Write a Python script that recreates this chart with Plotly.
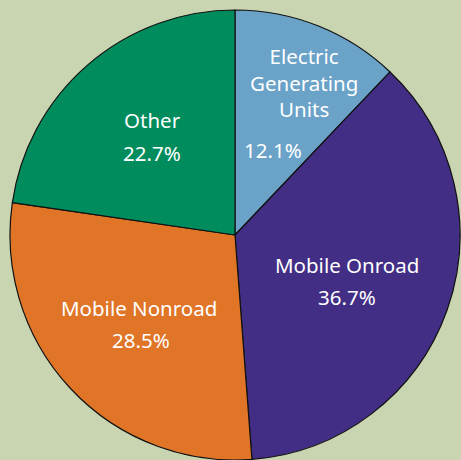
import plotly.graph_objects as go

# Emission share by source sector (percent)
sectors = ["Electric Generating Units", "Mobile Onroad", "Mobile Nonroad", "Other"]
shares = [12.1, 36.7, 28.5, 22.7]
slice_colors = ["#6aa2c8", "#422e85", "#e07528", "#008c5c"]

# label blocks drawn as text: (sector text, name x, name y, pct x, pct y) in pixels
W, H = 461, 460
label_layout = [
    ("Electric<br>Generating<br>Units", 304, 83, 273, 150),
    ("Mobile Onroad", 347, 265, 347, 297),
    ("Mobile Nonroad", 139, 308, 141, 340),
    ("Other", 152, 120, 152, 153),
]

fig = go.Figure(
    go.Pie(
        labels=sectors,
        values=shares,
        sort=False,
        direction="clockwise",
        rotation=0,
        marker=dict(colors=slice_colors, line=dict(color="#111111", width=1.2)),
        textinfo="none",
        hoverinfo="label+percent",
        showlegend=False,
        domain=dict(x=[10 / W, 460 / W], y=[0, 1 - 10 / H]),
    )
)

font = dict(family="'Noto Sans', 'Open Sans', sans-serif", size=20.5, color="white")
annotations = []
for (name, nx, ny, px, py), val in zip(label_layout, shares):
    annotations.append(dict(
        text=name, x=nx / W, y=1 - ny / H, xref="paper", yref="paper",
        xanchor="center", yanchor="middle", showarrow=False, font=font,
    ))
    annotations.append(dict(
        text=f"{val:.1f}%", x=px / W, y=1 - py / H, xref="paper", yref="paper",
        xanchor="center", yanchor="middle", showarrow=False, font=font,
    ))

fig.update_layout(
    width=W,
    height=H,
    margin=dict(l=0, r=0, t=0, b=0),
    paper_bgcolor="#c9d4b0",
    plot_bgcolor="#c9d4b0",
    annotations=annotations,
)

fig.write_html("out.html")
